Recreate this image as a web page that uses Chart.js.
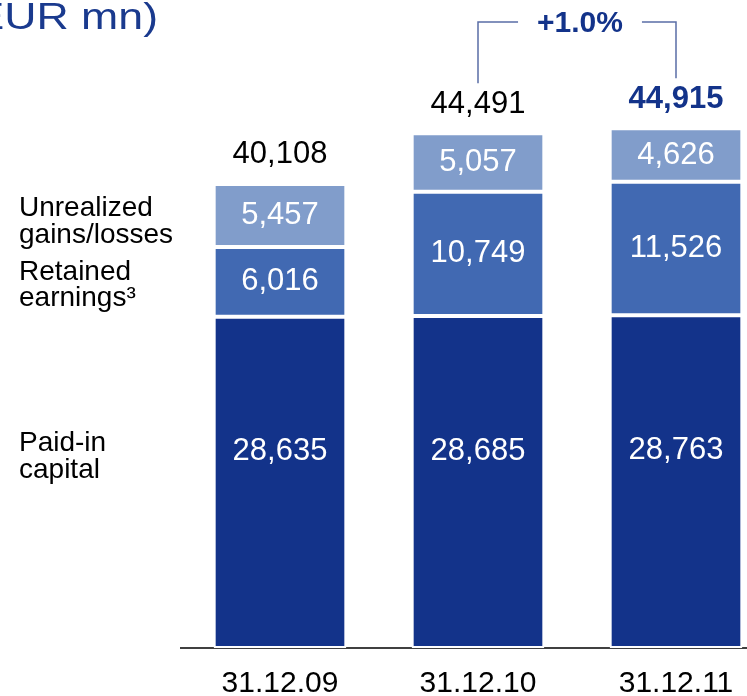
<!DOCTYPE html>
<html>
<head>
<meta charset="utf-8">
<script src="https://cdn.jsdelivr.net/npm/chart.js@4"></script>
<style>
  html, body { margin: 0; padding: 0; background: #fff; overflow: hidden; }
  #frame { width: 747px; height: 696px; overflow: hidden; position: relative; }
</style>
</head>
<body>
<div id="frame"><canvas id="chart" width="775" height="696"></canvas></div>
<script>
const categories = ['31.12.09', '31.12.10', '31.12.11'];
const paidIn = [28635, 28685, 28763];
const retained = [6016, 10749, 11526];
const unrealized = [5457, 5057, 4626];
const totals = [40108, 44491, 44915];
const paidInLabel = ['Paid-in', 'capital'];
const retainedLabel = ['Retained', 'earnings³'];
const unrealizedLabel = ['Unrealized', 'gains/losses'];
const titleText = '(EUR mn)';

const NAVY = '#13338A';
const FONT = '"Liberation Sans", Arial, sans-serif';
const fmt = v => v.toLocaleString('en-US');

// extras drawn on top: values, totals, side labels, bracket, title
const overlay = {
    id: 'overlay',
    afterDatasetsDraw(chart) {
        const ctx = chart.ctx;
        const metas = [0, 1, 2].map(i => chart.getDatasetMeta(i));
        ctx.save();

        // values inside segments
        ctx.font = '31px ' + FONT;
        ctx.fillStyle = '#fff';
        ctx.textAlign = 'center';
        ctx.textBaseline = 'middle';
        metas.forEach((meta, di) => {
            const shift = di === 0 ? -31 : 0;
            meta.data.forEach((bar, i) => {
                const v = chart.data.datasets[di].data[i];
                ctx.fillText(fmt(v), bar.x, (bar.y + bar.base) / 2 + shift);
            });
        });

        // totals
        const top = metas[2].data;
        top.forEach((bar, i) => {
            const last = i === totals.length - 1;
            ctx.font = (last ? 'bold ' : '') + '31px ' + FONT;
            ctx.fillStyle = last ? NAVY : '#000';
            ctx.fillText(fmt(totals[i]), bar.x, bar.y - 29);
        });

        // series labels left of the first bar
        ctx.font = '28px ' + FONT;
        ctx.fillStyle = '#000';
        ctx.textAlign = 'left';
        ctx.textBaseline = 'alphabetic';
        const side = [[paidInLabel, -31], [retainedLabel, -2], [unrealizedLabel, 1]];
        side.forEach(([lines, off], di) => {
            const bar = metas[di].data[0];
            const y0 = (bar.y + bar.base) / 2 + off;
            lines.forEach((t, k) => ctx.fillText(t, 19, y0 + k * 26.5));
        });

        // growth bracket between the last two totals
        const a = top[1], b = top[2];
        const pct = (totals[2] / totals[1] - 1) * 100;
        const label = (pct >= 0 ? '+' : '') + pct.toFixed(1) + '%';
        const yTop = 22;
        const mid = (a.x + b.x) / 2 + 3;
        ctx.font = 'bold 30px ' + FONT;
        const half = ctx.measureText(label).width / 2 + 19;
        ctx.strokeStyle = '#5A6EA6';
        ctx.lineWidth = 1.5;
        ctx.beginPath();
        ctx.moveTo(a.x, a.y - 50);
        ctx.lineTo(a.x, yTop);
        ctx.lineTo(mid - half, yTop);
        ctx.moveTo(mid + half, yTop);
        ctx.lineTo(b.x, yTop);
        ctx.lineTo(b.x, b.y - 50);
        ctx.stroke();
        ctx.fillStyle = NAVY;
        ctx.textAlign = 'center';
        ctx.textBaseline = 'middle';
        ctx.fillText(label, mid, yTop + 2);

        // title, cut at the left edge
        ctx.font = '36px ' + FONT;
        ctx.fillStyle = '#1A3A8E';
        ctx.textAlign = 'right';
        ctx.textBaseline = 'alphabetic';
        ctx.scale(1.24, 1);
        ctx.fillText(titleText, 158 / 1.24, 29);
        ctx.restore();
    }
};

const seg = (label, data, color) => ({
    label, data,
    backgroundColor: color,
    borderColor: '#fff',
    borderWidth: 2,
    borderSkipped: false,
    categoryPercentage: 1,
    barPercentage: 0.67,
});

new Chart(document.getElementById('chart'), {
    type: 'bar',
    data: {
        labels: categories,
        datasets: [
            seg('Paid-in capital', paidIn, NAVY),
            seg('Retained earnings', retained, '#4169B2'),
            seg('Unrealized gains/losses', unrealized, '#819DCB'),
        ],
    },
    options: {
        responsive: false,
        devicePixelRatio: 1,
        animation: false,
        layout: { padding: { left: 181, right: 0, top: 0, bottom: -24 } },
        plugins: { legend: { display: false }, tooltip: { enabled: false } },
        scales: {
            x: {
                stacked: true,
                grid: { display: false, drawTicks: false },
                border: { display: true, color: '#404040', width: 2 },
                ticks: {
                    color: '#000',
                    padding: 18,
                    font: { family: FONT, size: 30 },
                },
            },
            y: {
                stacked: true,
                display: false,
                min: 0,
                max: 56000,
            },
        },
    },
    plugins: [overlay],
});
</script>
</body>
</html>
